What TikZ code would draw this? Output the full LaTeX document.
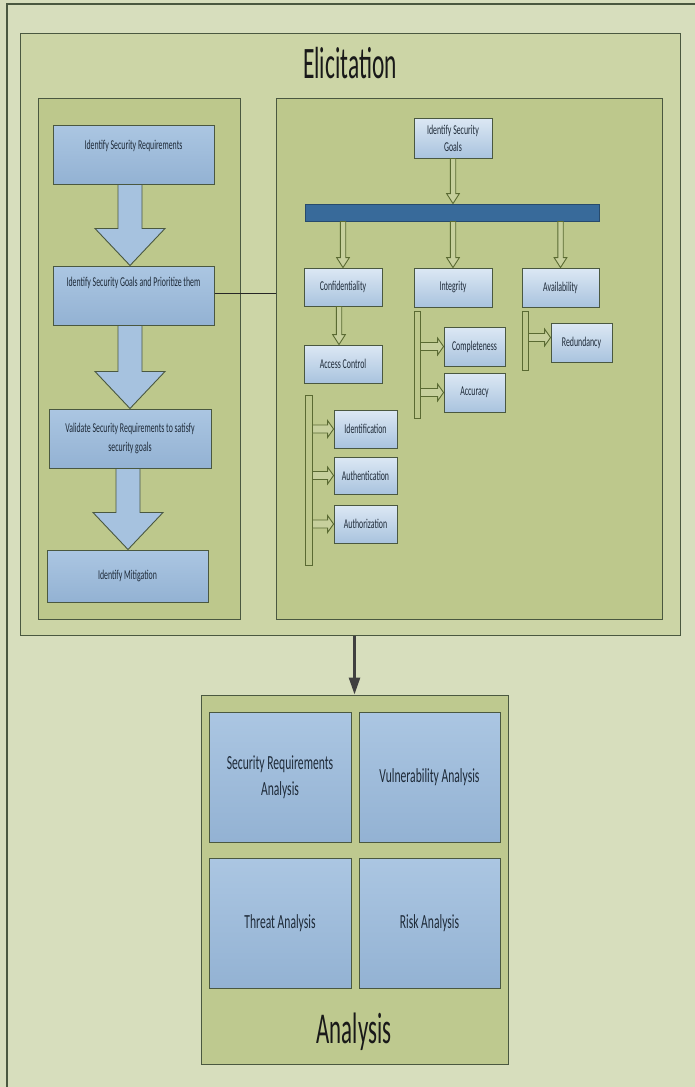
\documentclass[tikz,border=0pt]{standalone}
\usepackage{fontspec}
\setmainfont{Carlito}
\newfontfamily\ttlfont[FakeStretch=0.52]{Carlito}
\newfontfamily\txtfont[FakeStretch=0.58]{Carlito}
\usetikzlibrary{calc,arrows.meta}
\definecolor{bgout}{HTML}{D7DEBD}
\definecolor{elicfill}{HTML}{CCD5A6}
\definecolor{panelfill}{HTML}{BDC88C}
\definecolor{framec}{HTML}{4A5840}
\definecolor{olive}{HTML}{5A6A32}
\definecolor{bluetop}{HTML}{ABC6E2}
\definecolor{bluebot}{HTML}{93B2D3}
\definecolor{ltop}{HTML}{DCE8F4}
\definecolor{lbot}{HTML}{A9C3DE}
\definecolor{barblue}{HTML}{386A9A}
\definecolor{txtc}{HTML}{1E2A38}
\tikzset{
  panel/.style={draw=framec, line width=1pt, fill=#1, inner sep=0pt},
  lbox/.style={draw=framec, line width=1pt, top color=bluetop, bottom color=bluebot,
     inner sep=2pt, align=center, text=txtc, font=\txtfont\fontsize{13.5}{19.5}\selectfont},
  ltext/.style={text=txtc, align=center, inner sep=0pt, font=\txtfont\fontsize{13.5}{19.5}\selectfont},
  sbox/.style={draw=framec, line width=0.9pt, top color=ltop, bottom color=lbot,
     inner sep=1pt, align=center, text=txtc, font=\txtfont\fontsize{13.5}{17}\selectfont},
  cell/.style={draw=framec, line width=0.9pt, top color=bluetop, bottom color=bluebot,
     inner sep=2pt, align=center, text=txtc, font=\txtfont\fontsize{20}{26}\selectfont},
  brack/.style={draw=olive, line width=0.9pt, fill=panelfill, inner sep=0pt},
  bigarrow/.style={draw=framec, line width=0.9pt, fill=bluetop!80!bluebot},
  harrow/.style={draw=olive, line width=0.9pt, fill=panelfill!85!white},
  conn/.style={draw=black!85, line width=1pt},
  mainarrow/.style={draw=black!75, line width=2.6pt, -{Triangle[length=17pt,width=11pt]}},
  title/.style={anchor=base, inner sep=0pt, text=black!90, font=\ttlfont\fontsize{45}{50}\selectfont}
}
\newcommand\blockarrow[3]{%
  \draw[bigarrow] let \p1=(#1.south), \p2=(#2.north) in
    (#3pt-12pt,\y1) -- (#3pt-12pt,\y2+37pt) -- (#3pt-35pt,\y2+37pt) -- (#3pt,\y2)
    -- (#3pt+35pt,\y2+37pt) -- (#3pt+12pt,\y2+37pt) -- (#3pt+12pt,\y1) -- cycle;}
\newcommand\hdown[2]{%
  \draw[harrow] let \p1=(#1), \p2=(#2) in
    (\x1-2.7pt,\y1) -- (\x1-2.7pt,\y2+10pt) -- (\x1-6.4pt,\y2+10pt) -- (\x1,\y2)
    -- (\x1+6.4pt,\y2+10pt) -- (\x1+2.7pt,\y2+10pt) -- (\x1+2.7pt,\y1) -- cycle;}
\newcommand\hright[2]{%
  \draw[harrow] let \p1=(#1), \p2=(#2) in
    (\x1,\y2+4pt) -- (\x2-6pt,\y2+4pt) -- (\x2-6pt,\y2+8.5pt) -- (\x2,\y2)
    -- (\x2-6pt,\y2-8.5pt) -- (\x2-6pt,\y2-4pt) -- (\x1,\y2-4pt) -- cycle;}
\begin{document}
\begin{tikzpicture}[x=1pt,y=-1pt]
\useasboundingbox (0,0) rectangle (695,1087);
\fill[bgout] (0,0) rectangle (695,1087);
\draw[framec, line width=1.4pt] (7,1087) -- (7,4) -- (695,4);

% Elicitation
\node[panel=elicfill, minimum width=660, minimum height=602] (elic) at (350,334) {};
\node[title] (elictitle) at (350,78) {Elicitation};
\node[panel=panelfill, minimum width=202, minimum height=521] (lp) at (139,358.5) {};
\node[panel=panelfill, minimum width=386, minimum height=521] (rp) at (469,358.5) {};

% left flow
\node[lbox, minimum width=161, minimum height=59] (b1) at (133.5,154.5) {};
\node[ltext] (t1) at (133.5,146) {Identify Security Requirements};
\node[lbox, minimum width=161, minimum height=59] (b2) at (133.5,295.5) {};
\node[ltext] (t2) at (133.5,283) {Identify Security Goals and Prioritize them};
\node[lbox, minimum width=162, minimum height=59] (b3) at (130,438.5) {Validate Security Requirements to satisfy\\security goals};
\node[lbox, minimum width=161, minimum height=52] (b4) at (127.5,576) {Identify Mitigation};
\blockarrow{b1}{b2}{130}
\blockarrow{b2}{b3}{130}
\blockarrow{b3}{b4}{128}

\draw[conn] ([yshift=2.5pt]b2.east) -- ([yshift=2.5pt]b2.east -| rp.west);

% right panel
\node[sbox, minimum width=78, minimum height=40] (goal) at (453,138) {Identify Security\\Goals};
\node[draw=barblue!70!black, line width=0.9pt, fill=barblue, minimum width=294, minimum height=17, inner sep=0pt] (bar) at (452,212.5) {};
\node[sbox, minimum width=78, minimum height=38] (conf) at (343,287) {Confidentiality};
\node[sbox, minimum width=78, minimum height=39] (integ) at (453,287.5) {Integrity};
\node[sbox, minimum width=77, minimum height=39] (avail) at (560.5,287.5) {Availability};
\node[sbox, minimum width=78, minimum height=38] (acc) at (343,364) {Access Control};
\node[brack, minimum width=6, minimum height=107] (ibar) at (417,364.5) {};
\node[sbox, minimum width=61, minimum height=39] (comp) at (474.5,346.5) {Completeness};
\node[sbox, minimum width=61, minimum height=39] (accu) at (474.5,392.5) {Accuracy};
\node[brack, minimum width=6, minimum height=59] (vbar) at (525,340.5) {};
\node[sbox, minimum width=61, minimum height=39] (red) at (581.5,342.5) {Redundancy};
\node[brack, minimum width=7, minimum height=170] (abar) at (308.5,480) {};
\node[sbox, minimum width=63, minimum height=38] (ident) at (365.5,429) {Identification};
\node[sbox, minimum width=63, minimum height=37] (authn) at (365.5,475.5) {Authentication};
\node[sbox, minimum width=63, minimum height=38] (authz) at (365.5,524) {Authorization};

\hdown{goal.south}{goal.south |- bar.north}
\hdown{bar.south -| conf.north}{conf.north}
\hdown{bar.south -| integ.north}{integ.north}
\hdown{bar.south -| avail.north}{avail.north}
\hdown{[xshift=-4pt]conf.south}{[xshift=-4pt]acc.north}
\hright{ibar.east}{comp.west}
\hright{ibar.east}{accu.west}
\hright{vbar.east}{[yshift=5pt]red.west}
\hright{abar.east}{ident.west}
\hright{abar.east}{authn.west}
\hright{abar.east}{authz.west}

% Analysis
\node[panel=panelfill!90!elicfill, minimum width=307, minimum height=369] (an) at (354.5,879.5) {};
\node[cell, minimum width=142, minimum height=130] (sra) at (280,777) {Security Requirements\\Analysis};
\node[cell, minimum width=141, minimum height=130] (va) at (429.5,777) {Vulnerability Analysis};
\node[cell, minimum width=142, minimum height=130] (ta) at (280,923) {Threat Analysis};
\node[cell, minimum width=141, minimum height=130] (ra) at (429.5,923) {Risk Analysis};
\node[title, font=\ttlfont\fontsize{44}{50}\selectfont] (antitle) at (354,1043) {Analysis};

\draw[mainarrow] (an.north |- elic.south) -- (an.north);
\end{tikzpicture}
\end{document}
